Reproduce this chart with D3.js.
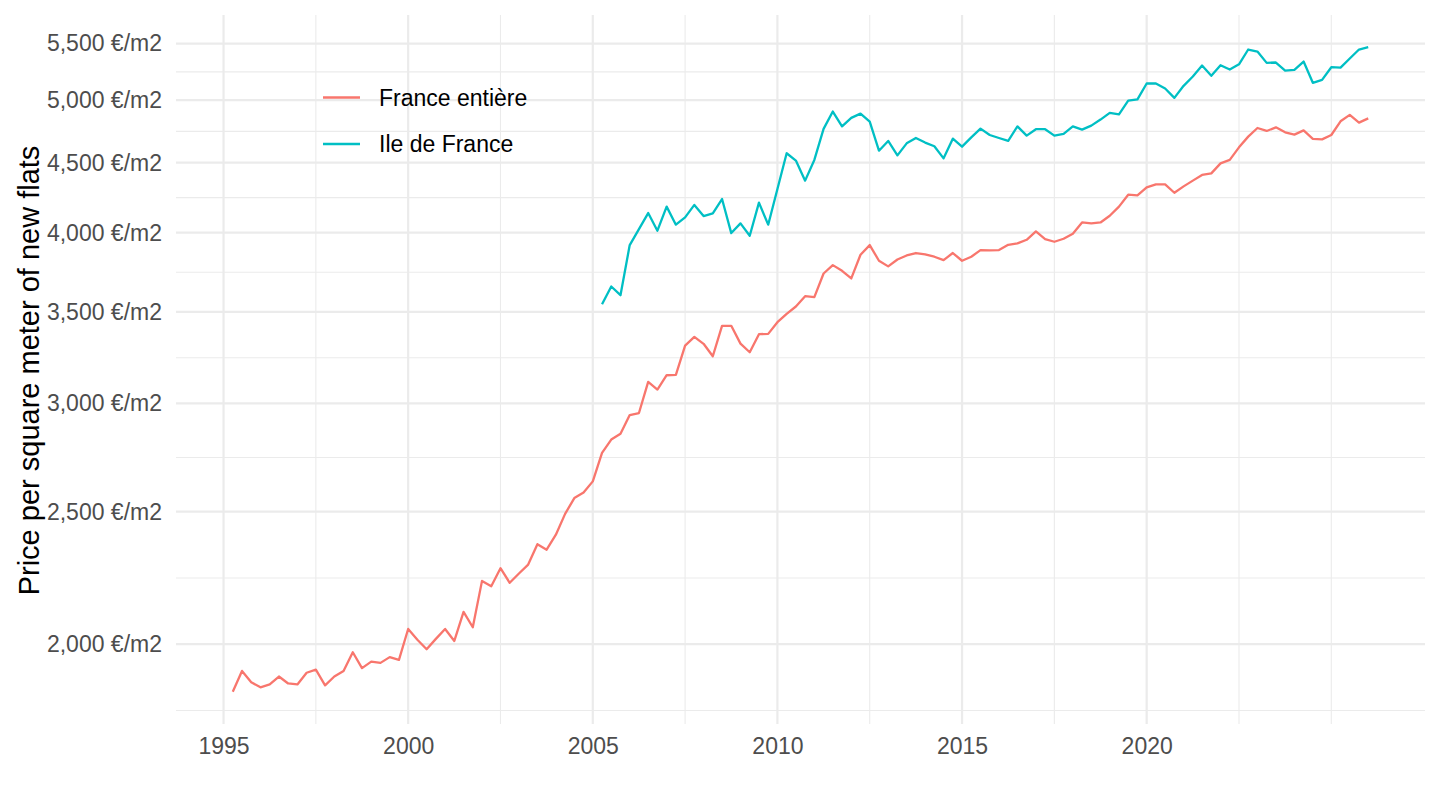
<!DOCTYPE html>
<html>
<head>
<meta charset="utf-8">
<script src="https://cdn.jsdelivr.net/npm/d3@7"></script>
<style>
  html, body { margin: 0; padding: 0; background: #ffffff; }
  svg { display: block; }
  text { font-family: "Liberation Sans", Arial, Helvetica, sans-serif; }
</style>
</head>
<body>
<svg id="chart" width="1440" height="810"></svg>
<script>
// ---- Data (quarterly, first quarter of each series given by start year; Q1..Q4) ----
const seriesNames = ["France entière", "Ile de France"];
const seriesColors = ["#F8766D", "#00BFC4"];
const franceStartYear = 1995;
const franceValues = [
  1846, 1912, 1876, 1860,
  1869, 1894, 1872, 1869,
  1906, 1916, 1866, 1894,
  1912, 1973, 1921, 1942,
  1938, 1957, 1948, 2052,
  2015, 1983, 2018, 2052,
  2011, 2112, 2058, 2225,
  2205, 2273, 2218, 2253,
  2287, 2367, 2345, 2405,
  2491, 2558, 2582, 2631,
  2760, 2823, 2851, 2942,
  2952, 3111, 3071, 3146,
  3148, 3307, 3356, 3317,
  3248, 3419, 3419, 3318,
  3270, 3371, 3373, 3440,
  3489, 3532, 3594, 3588,
  3734, 3787, 3751, 3703,
  3854, 3917, 3815, 3779,
  3823, 3849, 3865, 3856,
  3841, 3819, 3865, 3815,
  3841, 3884, 3882, 3884,
  3919, 3928, 3952, 4008,
  3957, 3939, 3959, 3993,
  4069, 4063, 4069, 4115,
  4179, 4264, 4259, 4317,
  4339, 4339, 4278, 4324,
  4366, 4408, 4420, 4495,
  4521, 4618, 4702, 4771,
  4747, 4776, 4736, 4718,
  4752, 4684, 4680, 4715,
  4825, 4877, 4814, 4849
];
const idfStartYear = 2005;
const idfValues = [
  3546, 3653, 3600, 3917,
  4024, 4134, 4013, 4179,
  4054, 4104, 4191, 4113,
  4132, 4233, 3997, 4063,
  3979, 4207, 4054, 4305,
  4572, 4516, 4366, 4521,
  4764, 4905, 4784, 4853,
  4888, 4822, 4592, 4668,
  4556, 4649, 4691, 4655,
  4626, 4533, 4686, 4623,
  4696, 4766, 4715, 4691,
  4668, 4784, 4710, 4761,
  4761, 4710, 4723, 4784,
  4758, 4790, 4839, 4894,
  4882, 4996, 5007, 5142,
  5142, 5099, 5019, 5122,
  5203, 5300, 5209, 5303,
  5264, 5311, 5445, 5426,
  5324, 5327, 5255, 5262,
  5336, 5148, 5173, 5285,
  5281, 5363, 5445, 5466
];
const xTickYears = [1995, 2000, 2005, 2010, 2015, 2020];
const yTickValues = [2000, 2500, 3000, 3500, 4000, 4500, 5000, 5500];
const yTitle = "Price per square meter of new flats";

// ---- Build series (date = end of quarter as decimal year) ----
function toPoints(startYear, values) {
  return values.map((v, i) => ({ t: startYear + (i + 1) / 4, v: v }));
}
const series = [
  { name: seriesNames[0], color: seriesColors[0], pts: toPoints(franceStartYear, franceValues) },
  { name: seriesNames[1], color: seriesColors[1], pts: toPoints(idfStartYear, idfValues) }
];

// ---- Layout ----
const svg = d3.select("#chart");
const panel = { left: 176, right: 1425, top: 15, bottom: 724 };

const allPts = series.flatMap(s => s.pts);
const tExt = d3.extent(allPts, d => d.t);
const tPad = (tExt[1] - tExt[0]) * 0.05;
const x = d3.scaleLinear().domain([tExt[0] - tPad, tExt[1] + tPad]).range([panel.left, panel.right]);

const vExt = d3.extent(allPts, d => d.v);
const lpad = Math.log(vExt[1] / vExt[0]) * 0.05;
const y = d3.scaleLog().domain([vExt[0] * Math.exp(-lpad), vExt[1] * Math.exp(lpad)]).range([panel.bottom, panel.top]);

// minor breaks (ggplot-style: midpoints in transformed space, including extended majors)
function minorBreaks(majors, transform, inverse) {
  const b = majors.map(transform);
  const ext = [b[0] - (b[1] - b[0]), ...b, b[b.length - 1] + (b[b.length - 1] - b[b.length - 2])];
  const out = [];
  for (let i = 0; i < ext.length - 1; i++) {
    out.push(ext[i]);
    out.push((ext[i] + ext[i + 1]) / 2);
  }
  out.push(ext[ext.length - 1]);
  return out.map(inverse);
}
const xMinor = minorBreaks(xTickYears, d => d, d => d)
  .filter(d => !xTickYears.includes(d))
  .filter(d => x(d) > panel.left + 1 && x(d) < panel.right - 1);
const yMinor = minorBreaks(yTickValues, Math.log, Math.exp)
  .filter(d => !yTickValues.some(m => Math.abs(m - d) < 1e-6))
  .filter(d => y(d) > panel.top + 2 && y(d) < panel.bottom - 1);

const grid = svg.append("g");
const gridColor = "#EBEBEB";
grid.selectAll(".yminor").data(yMinor).enter().append("line")
  .attr("x1", panel.left).attr("x2", panel.right)
  .attr("y1", d => y(d)).attr("y2", d => y(d))
  .attr("stroke", gridColor).attr("stroke-width", 1.1);
grid.selectAll(".xminor").data(xMinor).enter().append("line")
  .attr("y1", panel.top).attr("y2", panel.bottom)
  .attr("x1", d => x(d)).attr("x2", d => x(d))
  .attr("stroke", gridColor).attr("stroke-width", 1.1);
grid.selectAll(".ymajor").data(yTickValues).enter().append("line")
  .attr("x1", panel.left).attr("x2", panel.right)
  .attr("y1", d => y(d)).attr("y2", d => y(d))
  .attr("stroke", gridColor).attr("stroke-width", 2.2);
grid.selectAll(".xmajor").data(xTickYears).enter().append("line")
  .attr("y1", panel.top).attr("y2", panel.bottom)
  .attr("x1", d => x(d)).attr("x2", d => x(d))
  .attr("stroke", gridColor).attr("stroke-width", 2.2);

// ---- Axes (labels only, ggplot minimal style) ----
const yAxis = d3.axisLeft(y).tickValues(yTickValues)
  .tickFormat(d => d3.format(",")(d) + " €/m2").tickSize(0).tickPadding(14);
const gy = svg.append("g").attr("transform", `translate(${panel.left},0)`).call(yAxis);
gy.select(".domain").remove();
gy.selectAll("text").attr("fill", "#4D4D4D").style("font-size", "23px")
  .attr("font-family", "Liberation Sans, Arial, sans-serif");

const xAxis = d3.axisBottom(x).tickValues(xTickYears).tickFormat(d3.format("d")).tickSize(0).tickPadding(14);
const gx = svg.append("g").attr("transform", `translate(0,${panel.bottom})`).call(xAxis);
gx.select(".domain").remove();
gx.selectAll("text").attr("fill", "#4D4D4D").style("font-size", "23px")
  .attr("font-family", "Liberation Sans, Arial, sans-serif");

// y title
svg.append("text")
  .attr("transform", `translate(39,${(panel.top + panel.bottom) / 2 + 1}) rotate(-90)`)
  .attr("text-anchor", "middle")
  .attr("fill", "#000000")
  .style("font-size", "29px")
  .text(yTitle);

// ---- Lines ----
const line = d3.line().x(d => x(d.t)).y(d => y(d.v));
svg.append("g").selectAll("path").data(series).enter().append("path")
  .attr("d", d => line(d.pts))
  .attr("fill", "none")
  .attr("stroke", d => d.color)
  .attr("stroke-width", 2.3)
  .attr("stroke-linejoin", "round");

// ---- Legend ----
const legend = svg.append("g").attr("transform", "translate(323,97.5)");
const items = legend.selectAll("g").data(series).enter().append("g")
  .attr("transform", (d, i) => `translate(0,${i * 46.5})`);
items.append("line").attr("x1", 0).attr("x2", 37).attr("y1", 0).attr("y2", 0)
  .attr("stroke", d => d.color).attr("stroke-width", 2.3);
items.append("text").attr("x", 56).attr("y", 0).attr("dy", "0.36em")
  .attr("fill", "#000000").style("font-size", "23px")
  .text(d => d.name);
</script>
</body>
</html>
